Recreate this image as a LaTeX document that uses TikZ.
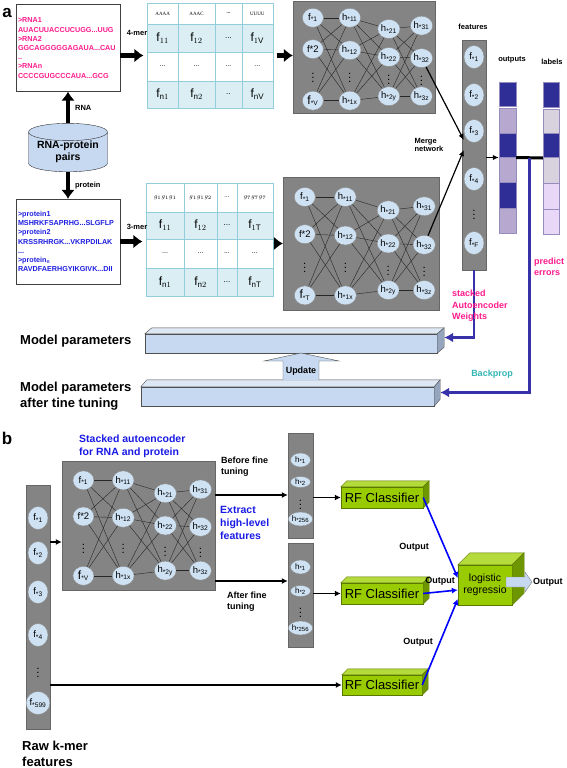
\documentclass[tikz,border=0pt]{standalone}
\usepackage{fontspec}
\setmainfont{Liberation Sans}
\newfontfamily\cellserif{Liberation Serif}
\usepackage{amsmath,amssymb}
\usetikzlibrary{arrows.meta,positioning,calc,shapes.geometric,matrix}

\definecolor{seqpink}{RGB}{255,26,140}
\definecolor{seqblue}{RGB}{30,30,225}
\definecolor{headblue}{RGB}{25,25,230}
\definecolor{cellblue}{RGB}{218,238,243}
\definecolor{cellline}{RGB}{146,205,220}
\definecolor{unitfill}{RGB}{207,226,243}
\definecolor{panelgray}{RGB}{132,132,132}
\definecolor{pairsfill}{RGB}{198,217,241}
\definecolor{navyseg}{RGB}{46,46,150}
\definecolor{lavseg}{RGB}{182,168,206}
\definecolor{greyseg}{RGB}{216,209,222}
\definecolor{pinkseg}{RGB}{233,215,248}
\definecolor{segedge}{RGB}{150,140,190}
\definecolor{errblue}{RGB}{55,50,170}
\definecolor{bpteal}{RGB}{50,180,180}
\definecolor{baredge}{RGB}{80,80,80}
\definecolor{bartop}{RGB}{222,232,245}
\definecolor{barside}{RGB}{150,165,190}
\definecolor{rfgreen}{RGB}{153,204,0}
\definecolor{rftop}{RGB}{180,218,60}
\definecolor{rfside}{RGB}{110,150,0}
\definecolor{rfedge}{RGB}{90,120,0}

% stacked autoencoder block: name, left, top, width, height, last input
\newcommand{\saenet}[6]{%
  \begin{scope}[shift={(#2,#3)},x=#4pt,y=-#5pt]
    \node[panel,minimum width=#4pt,minimum height=#5pt] (#1) at (0.5,0.5) {};
    \node[unit] (#1in1) at (0.14,0.15) {f\textsubscript{*1}};
    \node[unit] (#1in2) at (0.14,0.43) {f*2};
    \node[dotsnode] (#1in3) at (0.14,0.66) {$\vdots$};
    \node[unit] (#1in4) at (0.14,0.89) {{\fontsize{12}{12}\selectfont f}\textsubscript{*#6}};
    \node[unit] (#1ha1) at (0.40,0.15) {h\textsubscript{*11}};
    \node[unit] (#1ha2) at (0.40,0.44) {h\textsubscript{*12}};
    \node[dotsnode] (#1ha3) at (0.40,0.66) {$\vdots$};
    \node[unit] (#1ha4) at (0.40,0.89) {h\textsubscript{*1x}};
    \node[unit] (#1hb1) at (0.675,0.25) {h\textsubscript{*21}};
    \node[unit] (#1hb2) at (0.675,0.50) {h\textsubscript{*22}};
    \node[dotsnode] (#1hb3) at (0.675,0.68) {$\vdots$};
    \node[unit] (#1hb4) at (0.675,0.85) {h\textsubscript{*2y}};
    \node[unit] (#1hc1) at (0.905,0.22) {h\textsubscript{*31}};
    \node[unit] (#1hc2) at (0.905,0.51) {h\textsubscript{*32}};
    \node[dotsnode] (#1hc3) at (0.905,0.69) {$\vdots$};
    \node[unit] (#1hc4) at (0.905,0.85) {h\textsubscript{*3z}};
    \foreach \i in {1,2,4}{\foreach \j in {1,2,4}{
      \draw[wire] (#1in\i) -- (#1ha\j);
      \draw[wire] (#1ha\i) -- (#1hb\j);
      \draw[wire] (#1hb\i) -- (#1hc\j);}}
  \end{scope}}

% top and side faces of a block: node, dx, dy, colour stem
\newcommand{\boxfaces}[4]{%
  \filldraw[draw=#4edge,fill=#4top] (#1.north west) -- ++(#2,-#3) -- ([shift={(#2,-#3)}]#1.north east) -- (#1.north east) -- cycle;
  \filldraw[draw=#4edge,fill=#4side] (#1.north east) -- ++(#2,-#3) -- ([shift={(#2,-#3)}]#1.south east) -- (#1.south east) -- cycle;}

\begin{document}
\begin{tikzpicture}[x=1pt,y=-1pt,>=Latex,
  panel/.style={draw=black!60,fill=panelgray,inner sep=0},
  unit/.style={ellipse,draw=black!45,fill=unitfill,inner sep=0,minimum width=21pt,minimum height=19pt,font=\fontsize{9.5}{10}\selectfont},
  colunit/.style={unit,minimum width=20pt,minimum height=23pt},
  hunit/.style={unit,minimum width=20pt,minimum height=14pt,font=\fontsize{8}{9}\selectfont},
  dotsnode/.style={inner sep=0,font=\bfseries\fontsize{8}{8}\selectfont},
  wire/.style={black!85,line width=0.4pt},
  seqbox/.style={draw=black!75,fill=white,inner sep=2pt,text width=100pt,align=left,font=\bfseries\fontsize{7.2}{9.2}\selectfont},
  note/.style={inner sep=1pt,font=\bfseries\fontsize{7.5}{8.5}\selectfont,align=left},
  label9/.style={inner sep=1pt,font=\bfseries\fontsize{9}{11}\selectfont,align=left},
  heading/.style={inner sep=0,font=\bfseries\fontsize{13}{16}\selectfont,align=left},
  bluehead/.style={inner sep=0,text=headblue,font=\bfseries\fontsize{10.5}{13}\selectfont,align=left},
  bigarrow/.style={line width=4.3pt,-{Latex[length=9pt,width=14pt]}},
  midarrow/.style={line width=1.5pt,-{Latex[length=6pt,width=6pt]}},
  thinarrow/.style={line width=1.2pt,-{Latex[length=6pt,width=5.5pt]}},
  errline/.style={draw=errblue,line width=2.6pt,-{Latex[length=9pt,width=10pt]}},
  rfarrow/.style={draw=blue,line width=1.6pt,-{Latex[length=6pt,width=6pt]}},
  slab/.style={draw=baredge,fill=pairsfill,inner sep=0},
  rfbox/.style={draw=rfedge,fill=rfgreen,inner sep=0,font=\fontsize{13}{13}\selectfont},
  celltab/.style={matrix of nodes,row sep=-0.5pt,column sep=-0.5pt,nodes={draw=cellline,inner sep=0,anchor=center}},
]
\useasboundingbox (0,0) rectangle (566,768);

% ---------- a ----------
\node[inner sep=0,font=\bfseries\fontsize{17}{17}\selectfont] (taga) at (7,13) {a};

\node[seqbox,text=seqpink,minimum height=87pt] (rnaseq) at (68,48)
  {>RNA1\\AUACUUACCUCUGG...UUG\\>RNA2\\GGCAGGGGGAGAUA...CAU\\..\\>RNAn\\CCCCGUGCCCAUA...GCG};
\node[cylinder,shape border rotate=90,aspect=0.28,draw=black!80,fill=pairsfill,
  minimum width=79pt,minimum height=43pt,inner sep=0,align=center,
  font=\bfseries\fontsize{10.5}{12.5}\selectfont] (pairs) at (68,152) {RNA-protein\\pairs};
\node[seqbox,text=seqblue,minimum height=85pt] (pseq) at (68,241.5)
  {>protein1\\MSHRKFSAPRHG...SLGFLP\\>protein2\\KRSSRHRGK...VKRPDILAK\\...\\>protein\textsubscript{n}\\RAVDFAERHGYIKGIVK...DII};

\draw[bigarrow] (pairs.top) -- (rnaseq.south) node[note,midway,right=4pt] {RNA};
\draw[bigarrow] (pairs.bottom) -- (pseq.north) node[note,midway,right=4pt] {protein};

\matrix (rnatab) [celltab,
  column 1/.style={nodes={minimum width=31pt}},
  column 2/.style={nodes={minimum width=37pt}},
  column 3/.style={nodes={minimum width=27pt}},
  column 4/.style={nodes={minimum width=31pt}},
  row 1/.style={nodes={minimum height=21pt,fill=white,font=\cellserif\fontsize{5}{5}\selectfont}},
  row 2/.style={nodes={minimum height=28pt,fill=cellblue,font=\fontsize{12}{12}\selectfont}},
  row 3/.style={nodes={minimum height=29pt,fill=white,font=\fontsize{7}{7}\selectfont}},
  row 4/.style={nodes={minimum height=27pt,fill=cellblue,font=\fontsize{12}{12}\selectfont}}]
  at (210,55.5) {
  AAAA & AAAC & \textbf{...} & UUUU \\
  $\mathrm{f}_{11}$ & $\mathrm{f}_{12}$ & {\fontsize{8}{8}\selectfont ...} & $\mathrm{f}_{1\mathrm{V}}$ \\
  ... & ... & ... & ... \\
  $\mathrm{f}_{\mathrm{n}1}$ & $\mathrm{f}_{\mathrm{n}2}$ & {\fontsize{8}{8}\selectfont ..} & $\mathrm{f}_{\mathrm{nV}}$ \\
};
\matrix (ptab) [celltab,
  column 1/.style={nodes={minimum width=38pt}},
  column 2/.style={nodes={minimum width=33pt}},
  column 3/.style={nodes={minimum width=20pt}},
  column 4/.style={nodes={minimum width=36pt}},
  row 1/.style={nodes={minimum height=29pt,fill=white,font=\fontsize{6}{6}\selectfont}},
  row 2/.style={nodes={minimum height=27pt,fill=cellblue,font=\fontsize{12}{12}\selectfont}},
  row 3/.style={nodes={minimum height=29pt,fill=white,font=\fontsize{7}{7}\selectfont}},
  row 4/.style={nodes={minimum height=28pt,fill=cellblue,font=\fontsize{12}{12}\selectfont}}]
  at (209.5,239.5) {
  $g_1g_1g_1$ & $g_1g_1g_2$ & ... & $g_7g_7g_7$ \\
  $\mathrm{f}_{11}$ & $\mathrm{f}_{12}$ & {\fontsize{8}{8}\selectfont ...} & $\mathrm{f}_{1\mathrm{T}}$ \\
  ... & ... & ... & ... \\
  $\mathrm{f}_{\mathrm{n}1}$ & $\mathrm{f}_{\mathrm{n}2}$ & {\fontsize{8}{8}\selectfont ...} & $\mathrm{f}_{\mathrm{nT}}$ \\
};
\node[note] (kmer4) at (137,33) {4-mer};
\node[note] (kmer3) at (137,227) {3-mer};
\draw[bigarrow] (rnaseq.east |- rnatab.west) -- (rnatab.west);
\draw[bigarrow] (pseq.east) -- (pseq.east -| ptab.west);

\saenet{nna}{293}{1}{142}{112}{V}
\saenet{nnb}{283}{177}{156}{133}{T}
\draw[bigarrow] (rnatab.east) -- (rnatab.east -| nna.west);
\draw[bigarrow] (ptab.east |- nnb.west) -- (nnb.west);

% merged features
\node[panel,minimum width=24pt,minimum height=230pt] (feat) at (474,155) {};
\node[colunit] (fe1) at (474,57) {f\textsubscript{*1}};
\node[colunit] (fe2) at (474,95) {f\textsubscript{*2}};
\node[colunit] (fe3) at (474,131) {f\textsubscript{*3}};
\node[colunit] (fe4) at (474,179) {f\textsubscript{*4}};
\node[dotsnode] (fe5) at (474,212) {$\vdots$};
\node[colunit] (fe6) at (474,243) {f\textsubscript{*F}};
\node[note] (featlbl) at (473,27) {features};
\node[note] (merge) at (429,145) {Merge\\network};
\draw[thinarrow] (nnahc2) -- ([yshift=-9pt]fe3.west);
\draw[thinarrow] (nnbhc2) -- ([yshift=-19pt]fe3.west);

% outputs and labels
\node[inner sep=0,minimum width=17pt,minimum height=151pt] (outbar) at (507.5,157.5) {};
\node[inner sep=0,minimum width=16pt,minimum height=152pt] (labbar) at (551,158) {};
\foreach \ya/\yb/\c in {82/106/navyseg,108/133/lavseg,133/157/navyseg,157/182/lavseg,182/208/navyseg,208/233/lavseg}
  \filldraw[draw=segedge,fill=\c] (499,\ya) rectangle (516,\yb);
\foreach \ya/\yb/\c in {82/107/navyseg,109/133/greyseg,133/157/navyseg,157/183/greyseg,183/209/pinkseg,209/234/pinkseg}
  \filldraw[draw=segedge,fill=\c] (543,\ya) rectangle (559,\yb);
\node[note] (outlbl) at (512,60) {outputs};
\node[note] (lablbl) at (552,62) {labels};
\draw[thinarrow] (outbar.west -| feat.east) -- (outbar.west);
\draw[line width=3pt] (outbar.east) -- (labbar.west);
\coordinate (errtap) at ($(outbar.east)!0.5!(labbar.west)$);

% model parameters
\node[slab,minimum width=292pt,minimum height=19pt] (params) at (291,343.5) {};
\boxfaces{params}{7}{6}{bar}
\node[slab,minimum width=293pt,minimum height=19pt] (tuned) at (287.5,396.5) {};
\boxfaces{tuned}{6}{7}{bar}
\filldraw[draw=baredge,fill=pairsfill] (283,380) -- (283,361) -- (264,361) -- (301,353) -- (339,361) -- (319,361) -- (319,380);
\node[label9] (upd) at (301,371) {Update};
\node[heading,anchor=west] (mplab) at (20,341) {Model parameters};
\node[heading,anchor=west] (tunelab) at (20,396) {Model parameters\\after tine tuning};
\coordinate (paramsport) at ([shift={(7,-6)}]params.east);
\coordinate (tunedport) at ([shift={(6,-4)}]tuned.east);
\draw[errline] (feat.south) |- (paramsport);
\draw[errline] (errtap) |- (tunedport);
\node[label9,text=seqpink,anchor=west,font=\bfseries\fontsize{9}{11.5}\selectfont] (sawlbl) at (451,306) {stacked\\Autoencoder\\Weights};
\node[label9,text=seqpink,anchor=west] (errlbl) at (533,267) {predict\\errors};
\node[label9,text=bpteal] (bplbl) at (492,374) {Backprop};

% ---------- b ----------
\node[inner sep=0,font=\bfseries\fontsize{17}{17}\selectfont] (tagb) at (7,438) {b};
\node[bluehead,anchor=west] (saelbl) at (79,446) {Stacked autoencoder\\for RNA and protein};
\saenet{nnc}{62}{461}{153}{129}{V}

\node[panel,minimum width=24pt,minimum height=244pt] (rawcol) at (38,607) {};
\node[colunit] (rw1) at (38,518) {f\textsubscript{*1}};
\node[colunit] (rw2) at (38,553) {f\textsubscript{*2}};
\node[colunit] (rw3) at (38,592) {f\textsubscript{*3}};
\node[colunit] (rw4) at (38,635) {f\textsubscript{*4}};
\node[dotsnode] (rw5) at (38,670) {$\vdots$};
\node[colunit] (rw6) at (38,703) {f\textsubscript{*599}};
\node[heading,anchor=west] (rawlbl) at (22,754) {Raw k-mer\\features};

\node[panel,minimum width=25pt,minimum height=105pt] (hid1) at (300.5,485.5) {};
\node[hunit] (hb1) at (300.5,460) {h\textsubscript{*1}};
\node[hunit,minimum height=11pt] (hb2) at (300.5,482) {h\textsubscript{*2}};
\node[dotsnode] (hb3) at (300.5,502) {$\vdots$};
\node[hunit] (hb4) at (300.5,519) {h\textsubscript{*256}};
\node[panel,minimum width=25pt,minimum height=104pt] (hid2) at (300.5,595) {};
\node[hunit] (hc1) at (300.5,567) {h\textsubscript{*1}};
\node[hunit,minimum height=11pt] (hc2) at (300.5,591) {h\textsubscript{*2}};
\node[dotsnode] (hc3) at (300.5,610) {$\vdots$};
\node[hunit] (hc4) at (300.5,628) {h\textsubscript{*256}};

\path (nnc.west) ++(0,16.5) coordinate (nncin);
\path (nnc.east) ++(0,-30.5) coordinate (befout);
\path (nnc.east) ++(0,55.5) coordinate (aftout);
\draw[midarrow] (nncin -| rawcol.east) -- (nncin);
\draw[midarrow] (befout) -- (befout -| hid1.west);
\draw[midarrow] (aftout) -- (aftout -| hid2.west);
\node[label9,anchor=west] (beflbl) at (220,467) {Before fine\\tuning};
\node[bluehead,anchor=west] (extlbl) at (220,523) {Extract\\high-level\\features};
\node[label9,anchor=west] (aftlbl) at (226,602) {After fine\\tuning};

\node[rfbox,minimum width=82pt,minimum height=21pt] (rf1) at (382,497.5) {RF Classifier};
\boxfaces{rf1}{6}{6}{rf}
\node[rfbox,minimum width=82pt,minimum height=21pt] (rf2) at (382,593.5) {RF Classifier};
\boxfaces{rf2}{6}{6}{rf}
\node[rfbox,minimum width=80pt,minimum height=20pt] (rf3) at (382,685) {RF Classifier};
\boxfaces{rf3}{6}{6}{rf}
\draw[midarrow] (hid1.east |- rf1.west) -- (rf1.west);
\draw[midarrow] (hid2.east |- rf2.west) -- (rf2.west);
\draw[midarrow] (rawcol.east |- rf3.west) -- (rf3.west);

\node[rfbox,minimum width=54pt,minimum height=40pt,align=center,font=\fontsize{10.5}{12}\selectfont] (logit) at (485,585) {logistic\\regressio};
\boxfaces{logit}{12}{12}{rf}
\draw[rfarrow] (rf1.east) -- ([yshift=7pt]logit.west);
\draw[rfarrow] (rf2.east) -- ([yshift=-5pt]logit.west);
\draw[rfarrow] (rf3.east) -- ([yshift=-14pt]logit.west);
\node[label9] (out1) at (414,547) {Output};
\node[label9] (out2) at (440,581) {Output};
\node[label9] (out3) at (418,642) {Output};
\filldraw[draw=black!50,fill=pairsfill] (506,577) -- (525,577) -- (525,572) -- (532,582) -- (525,592) -- (525,587) -- (506,587) -- cycle;
\node[label9,anchor=west] (outfin) at (532,582) {Output};
\end{tikzpicture}
\end{document}
